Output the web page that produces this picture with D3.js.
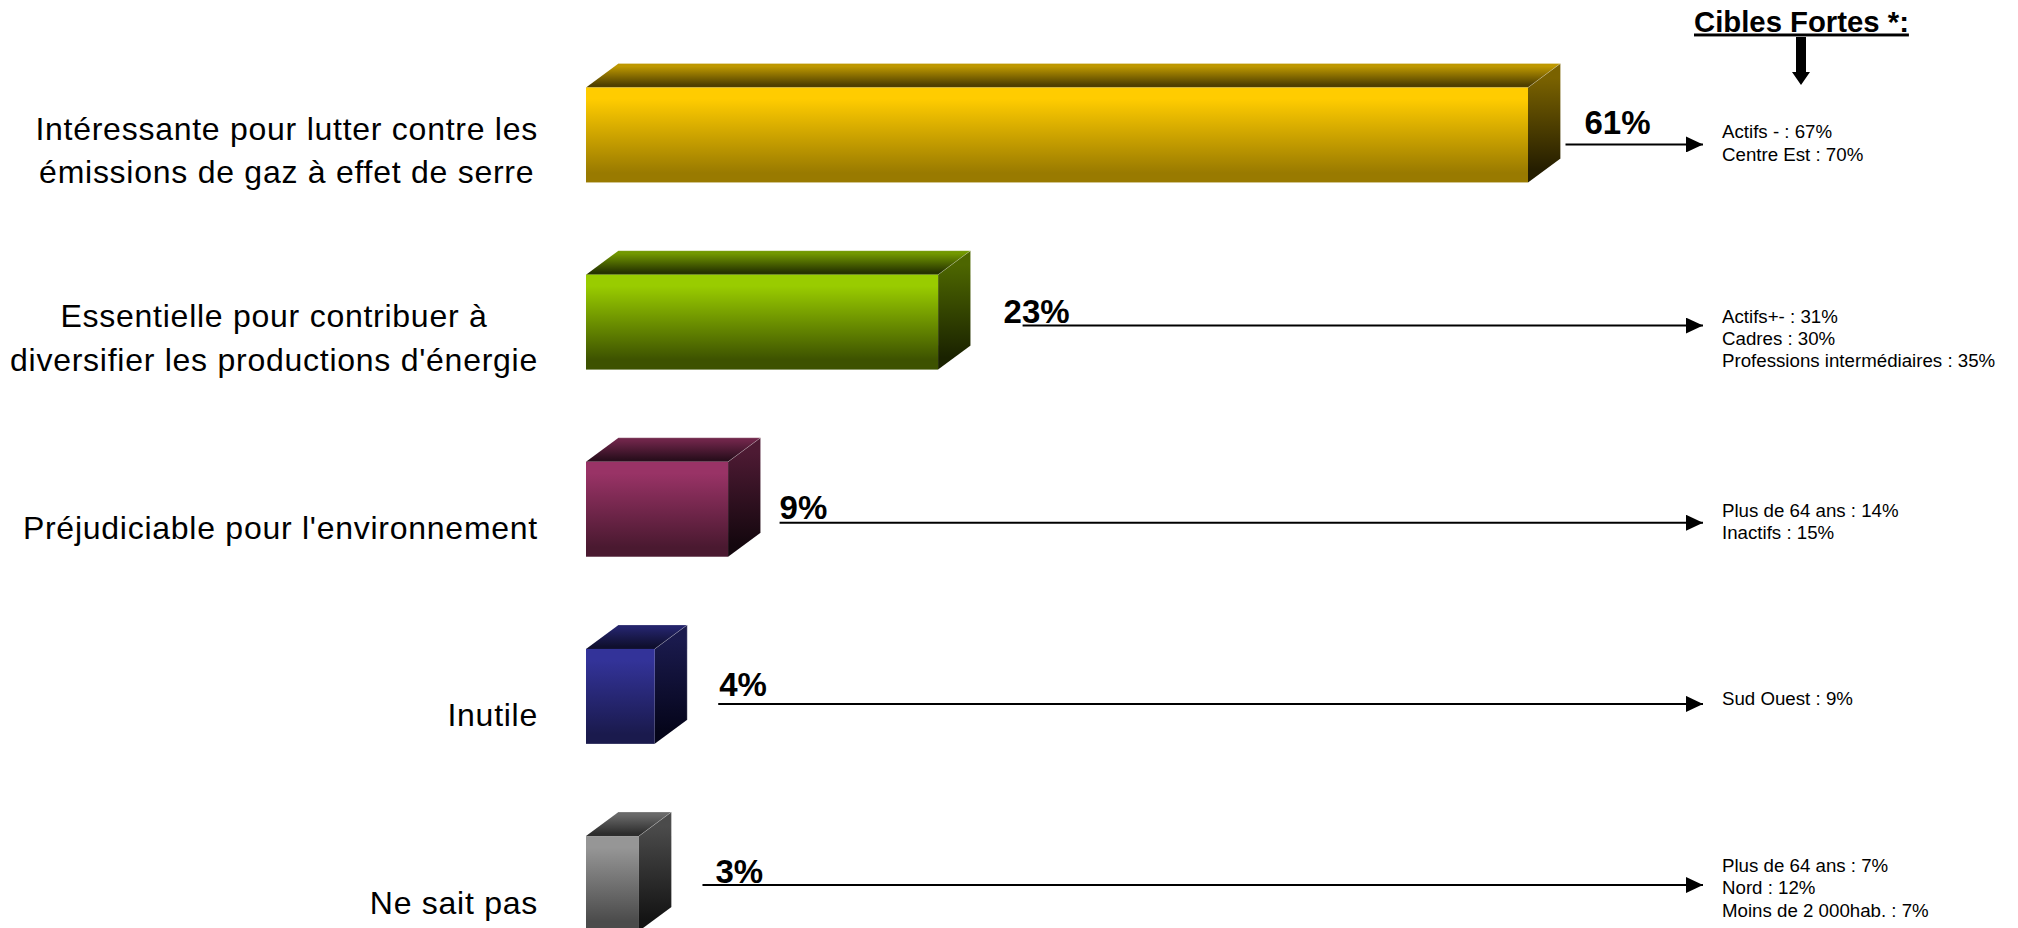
<!DOCTYPE html>
<html>
<head>
<meta charset="utf-8">
<title>Cibles Fortes</title>
<script src="https://cdn.jsdelivr.net/npm/d3@7"></script>
<style>
	html, body { margin: 0; padding: 0; background: #fff; overflow: hidden; }
	svg { display: block; font-family: "Liberation Sans", Arial, sans-serif; }
</style>
</head>
<body>
<div id="chartContainer"></div>
<script>
// data
var categories = [
	["Intéressante pour lutter contre les", "émissions de gaz à effet de serre"],
	["Essentielle pour contribuer à", "diversifier les productions d'énergie"],
	["Préjudiciable pour l'environnement"],
	["Inutile"],
	["Ne sait pas"]
];
var values = [61, 22.8, 9.2, 4.45, 3.43];
var targets = [
	["Actifs - : 67%", "Centre Est : 70%"],
	["Actifs+- : 31%", "Cadres : 30%", "Professions intermédiaires : 35%"],
	["Plus de 64 ans : 14%", "Inactifs : 15%"],
	["Sud Ouest : 9%"],
	["Plus de 64 ans : 7%", "Nord : 12%", "Moins de 2 000hab. : 7%"]
];
var targetsTitle = "Cibles Fortes *:";

// colours of each box: front, top and side faces, light to dark
var palette = [
	{front: ["#FFCC00", "#997A00"], top: ["#BE9800", "#4F3F00"], side: ["#7A6200", "#241D00"]},
	{front: ["#99CC00", "#3D5200"], top: ["#729800", "#263300"], side: ["#4D6600", "#1A2200"]},
	{front: ["#993366", "#4A1930"], top: ["#6E2549", "#2A0E1D"], side: ["#4D1A33", "#14070E"]},
	{front: ["#333399", "#1A1A4D"], top: ["#24246B", "#0F0F2E"], side: ["#1A1A4D", "#05051A"]},
	{front: ["#969696", "#4B4B4B"], top: ["#696969", "#2D2D2D"], side: ["#4B4B4B", "#141414"]}
];

// hand placed annotations, one per row
var leaderGap = [5, 52, 19, 31, 31];    // from box back edge to leader start
var leaderDy = [9.5, 3.5, 13.5, 7.5, 1.5]; // from band centre to leader
var labelDx = [19, -19, 0, 1, 13];      // from leader start to % label
var labelDy = [-10, -3, -4, -8, -2];    // from leader to % baseline
var targetDy = [3.5, 0.5, 7.5, 8.5, -11.5];

var depthX = 32.5, depthY = 24;
var arrowEnd = 1703, targetX = 1722, labelRight = 538;

var svg = d3.select("#chartContainer").append("svg")
	.attr("width", 2018)
	.attr("height", 928);

var x = d3.scaleLinear().domain([0, 61]).range([586, 1528]);
var y = d3.scaleBand().domain(d3.range(values.length)).range([87.5, 931]).paddingInner(0.4927).paddingOuter(0);

var defs = svg.append("defs");
function addGradient(id, stops){
	var g = defs.append("linearGradient").attr("id", id).attr("x1", 0).attr("y1", 0).attr("x2", 0).attr("y2", 1);
	g.append("stop").attr("offset", "12%").attr("stop-color", stops[0]);
	g.append("stop").attr("offset", "90%").attr("stop-color", stops[1]);
}
palette.forEach(function(p, i){
	addGradient("front" + i, p.front);
	addGradient("top" + i, p.top);
	addGradient("side" + i, p.side);
});
defs.append("marker")
	.attr("id", "head")
	.attr("markerUnits", "userSpaceOnUse")
	.attr("markerWidth", 17)
	.attr("markerHeight", 16)
	.attr("refX", 17)
	.attr("refY", 8)
	.attr("orient", "auto")
	.append("path")
	.attr("d", "M0,0L17,8L0,16Z")
	.attr("fill", "#000");

var rows = svg.selectAll("g.row")
	.data(values)
	.enter()
	.append("g")
	.attr("class", "row");

// Boxes
rows.append("path")
	.attr("fill", function(d, i){ return "url(#top" + i + ")"; })
	.attr("d", function(d, i){
		var x0 = x(0), x1 = x(d), y0 = y(i);
		return "M" + x0 + "," + y0 + "L" + (x0 + depthX) + "," + (y0 - depthY) + "L" + (x1 + depthX) + "," + (y0 - depthY) + "L" + x1 + "," + y0 + "Z";
	});
rows.append("path")
	.attr("fill", function(d, i){ return "url(#side" + i + ")"; })
	.attr("d", function(d, i){
		var x1 = x(d), y0 = y(i), y1 = y(i) + y.bandwidth();
		return "M" + x1 + "," + y0 + "L" + (x1 + depthX) + "," + (y0 - depthY) + "L" + (x1 + depthX) + "," + (y1 - depthY) + "L" + x1 + "," + y1 + "Z";
	});
rows.append("rect")
	.attr("x", x(0))
	.attr("y", function(d, i){ return y(i); })
	.attr("width", function(d){ return x(d) - x(0); })
	.attr("height", y.bandwidth())
	.attr("fill", function(d, i){ return "url(#front" + i + ")"; });
// thin light line on the far edges
rows.append("path")
	.attr("fill", "none")
	.attr("stroke", "#fff")
	.attr("stroke-opacity", 0.25)
	.attr("d", function(d, i){
		var x0 = x(0), x1 = x(d), y0 = y(i), y1 = y(i) + y.bandwidth();
		return "M" + (x0 + depthX) + "," + (y0 - depthY) + "H" + (x1 + depthX) + "V" + (y1 - depthY) + "M" + x1 + "," + y0 + "L" + (x1 + depthX) + "," + (y0 - depthY);
	});

// Category labels, block is centred on itself and right aligned at labelRight
rows.append("text")
	.attr("class", "category")
	.attr("text-anchor", "middle")
	.style("font-size", "32px")
	.style("letter-spacing", "0.74px")
	.attr("fill", "#000")
	.each(function(d, i){
		var t = d3.select(this);
		var lines = categories[i];
		var mid = y(i) + y.bandwidth() / 2;
		lines.forEach(function(line, j){
			t.append("tspan")
				.attr("y", lines.length == 1 ? mid + 30 : mid + 5 + j * 43.5)
				.text(line);
		});
		var longest = d3.max(t.selectAll("tspan").nodes(), function(n){ return n.getComputedTextLength(); });
		t.selectAll("tspan").attr("x", labelRight - longest / 2);
	});

// Leaders and % labels
function leaderStart(d, i){ return x(d) + depthX + leaderGap[i]; }
function leaderY(i){ return y(i) + y.bandwidth() / 2 + leaderDy[i]; }

rows.append("line")
	.attr("x1", leaderStart)
	.attr("x2", arrowEnd)
	.attr("y1", function(d, i){ return leaderY(i); })
	.attr("y2", function(d, i){ return leaderY(i); })
	.attr("stroke", "#000")
	.attr("stroke-width", 2)
	.attr("marker-end", "url(#head)");

rows.append("text")
	.attr("x", function(d, i){ return leaderStart(d, i) + labelDx[i]; })
	.attr("y", function(d, i){ return leaderY(i) + labelDy[i]; })
	.style("font-size", "33px")
	.style("font-weight", "bold")
	.text(function(d){ return Math.round(d) + "%"; });

// Strong targets
rows.append("text")
	.style("font-size", "18.7px")
	.each(function(d, i){
		var t = d3.select(this);
		targets[i].forEach(function(line, j){
			t.append("tspan")
				.attr("x", targetX)
				.attr("y", y(i) + y.bandwidth() / 2 + targetDy[i] + j * 22.4)
				.text(line);
		});
	});

//Title
svg.append("text")
	.attr("x", 1694)
	.attr("y", 31.5)
	.style("font-size", "29.3px")
	.style("font-weight", "bold")
	.style("text-decoration", "underline")
	.text(targetsTitle);

svg.append("path")
	.attr("d", "M1796,37H1806V72H1810L1801,85L1792,72H1796Z")
	.attr("fill", "#000");
</script>
</body>
</html>
